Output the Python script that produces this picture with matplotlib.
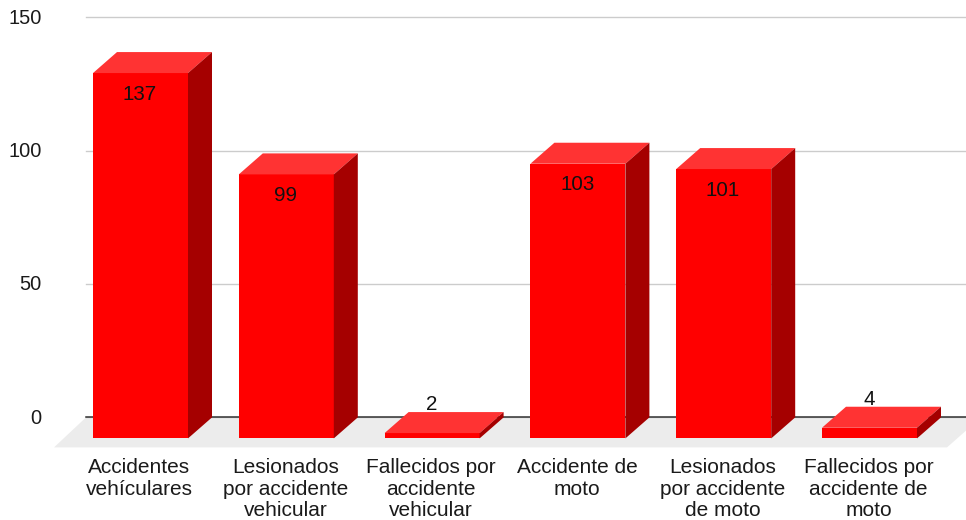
import matplotlib
matplotlib.use("Agg")
import matplotlib.pyplot as plt
from matplotlib.patches import Polygon
from matplotlib.transforms import ScaledTranslation

plt.rcParams['font.family'] = ['Liberation Sans', 'DejaVu Sans']

categories = ["Accidentes\nvehículares", "Lesionados\npor accidente\nvehicular",
              "Fallecidos por\naccidente\nvehicular", "Accidente de\nmoto",
              "Lesionados\npor accidente\nde moto", "Fallecidos por\naccidente de\nmoto"]
values = [137, 99, 2, 103, 101, 4]
yticks = [0, 50, 100, 150]

W, H = 966, 520
fig = plt.figure(figsize=(W / 100, H / 100), dpi=100)
ax = fig.add_axes([86 / W, 1 - 417.4 / H, (W - 86) / W, 400 / H])

cat_px = 145.8
x0_px = 140.5
px_y = 400 / 150
ax.set_xlim((86 - x0_px) / cat_px, (W - x0_px) / cat_px)
ax.set_ylim(0, 150)

dx = 24 / cat_px
dy = 21 / px_y
bw = 95 / cat_px

# floor
ax.add_patch(Polygon([((54 - x0_px) / cat_px, -30 / px_y), ((947 - x0_px) / cat_px, -30 / px_y),
                      ((981 - x0_px) / cat_px, 0), ((86 - x0_px) / cat_px, 0)],
                     closed=True, fc='#ececec', ec='none', clip_on=False, zorder=0.5))

# grid
ax.set_axisbelow(True)
ax.yaxis.grid(True, color='#cccccc', lw=1.0, zorder=1)
for g in ax.get_ygridlines():
    g.set_clip_on(False)
ax.xaxis.grid(False)
for s in ['top', 'left', 'right']:
    ax.spines[s].set_visible(False)
ax.spines['bottom'].set_color('#333333')
ax.spines['bottom'].set_linewidth(1.1)
ax.spines['bottom'].set_zorder(1.5)

ax.set_yticks(yticks)
ax.set_yticklabels([str(t) for t in yticks], fontsize=14.4, color='#1a1a1a')
ax.tick_params(axis='y', length=0, pad=32)
ax.set_xticks(range(len(categories)))
ax.set_xticklabels(categories, fontsize=15, color='#1a1a1a', linespacing=1.16)
ax.tick_params(axis='x', length=0, pad=29.5)

up = ScaledTranslation(0, 1.2 / 100, fig.dpi_scale_trans)
for lab in ax.get_yticklabels():
    lab.set_transform(lab.get_transform() + up)
left = ScaledTranslation(-1 / 100, 0, fig.dpi_scale_trans)
for lab in ax.get_xticklabels():
    lab.set_transform(lab.get_transform() + left)

for i, v in enumerate(values):
    l, r = i - bw / 2, i + bw / 2
    b, t = -dy, v - dy
    ax.bar(i, v, width=bw, bottom=b, color='#ff0000', clip_on=False, zorder=3, lw=0)
    ax.add_patch(Polygon([(l, t), (r, t), (r + dx, t + dy), (l + dx, t + dy)], closed=True,
                         fc='#ff3333', ec='none', clip_on=False, zorder=3))
    ax.add_patch(Polygon([(r, b), (r + dx, b + dy), (r + dx, t + dy), (r, t)], closed=True,
                         fc='#a50000', ec='none', clip_on=False, zorder=3))
    off = -42 * 0.72 if v > 10 else 7.5 * 0.72
    ax.annotate(str(v), (i - 0.005, v), xytext=(0, off), textcoords='offset points',
                ha='center', va='center', fontsize=14.8, color='#111111', zorder=4,
                annotation_clip=False)

fig.savefig("out.png", dpi=100)
